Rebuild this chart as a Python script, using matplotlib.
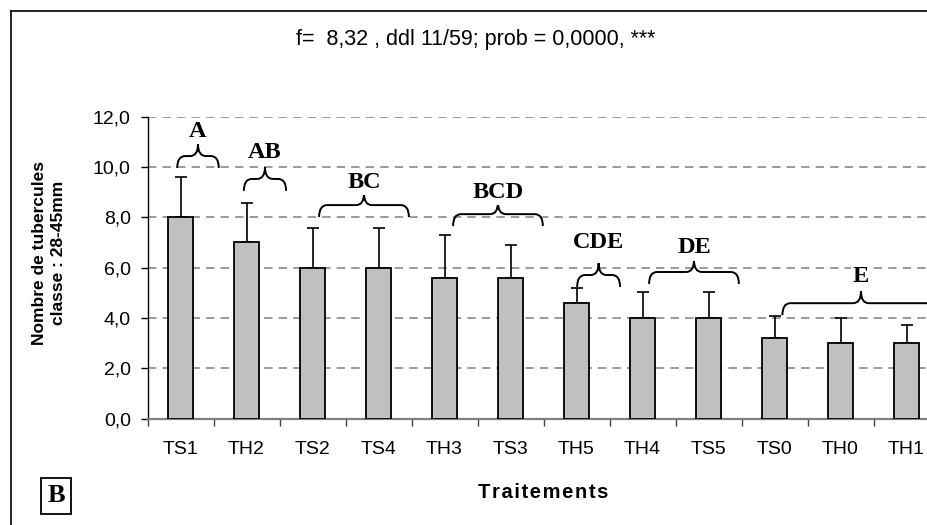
import numpy as np
import matplotlib
matplotlib.use("Agg")
from matplotlib import pyplot as plt
from matplotlib.path import Path
from matplotlib.patches import PathPatch
from matplotlib.lines import Line2D
from matplotlib.ticker import FuncFormatter

treatments = ['TS1', 'TH2', 'TS2', 'TS4', 'TH3', 'TS3', 'TH5', 'TH4', 'TS5', 'TS0', 'TH0', 'TH1']
means = [8.0, 7.0, 6.0, 6.0, 5.6, 5.6, 4.6, 4.0, 4.0, 3.2, 3.0, 3.0]
errors = [1.6, 1.56, 1.56, 1.56, 1.7, 1.3, 0.57, 1.02, 1.02, 0.86, 0.98, 0.73]

# Newman-Keuls groups: letters, brace span (category units) and base height
groups = ['A', 'AB', 'BC', 'BCD', 'CDE', 'DE', 'E']
brace_from = [-0.05, 0.96, 2.10, 4.13, 6.01, 7.10, 9.12]
brace_to = [0.58, 1.60, 3.46, 5.49, 6.66, 8.46, 11.5]
brace_base = [9.96, 9.05, 8.01, 7.65, 5.23, 5.35, 4.11]
letter_y = [11.42, 10.56, 9.40, 9.00, 6.98, 6.78, 5.66]

title = 'f=  8,32 , ddl 11/59; prob = 0,0000, ***'

W, H = 927, 525
x_left, cat_px = 147.5, 66.0   # axis origin and category width in pixels


def brace(ax, x0, x1, y, h=0.95, r=0.12):
    xm = (x0 + x1) / 2
    hm = y + h / 2
    verts = [(x0, y), (x0, hm), (x0 + r, hm),
             (xm - r, hm), (xm, hm), (xm, y + h),
             (xm, hm), (xm + r, hm),
             (x1 - r, hm), (x1, hm), (x1, y)]
    codes = [Path.MOVETO, Path.CURVE3, Path.CURVE3,
             Path.LINETO, Path.CURVE3, Path.CURVE3,
             Path.CURVE3, Path.CURVE3,
             Path.LINETO, Path.CURVE3, Path.CURVE3]
    ax.add_patch(PathPatch(Path(verts, codes), fill=False, edgecolor='black',
                           linewidth=1.4, zorder=4))


fig = plt.figure(figsize=(W / 100, H / 100), dpi=100)
fig.patch.set_facecolor('white')

# the original picture is cut on the right: the axes stops at the picture edge
ax = fig.add_axes([x_left / W, 1 - 418.5 / H, (W - x_left) / W, 301.8 / H])
x = np.arange(len(treatments))
ax.bar(x, means, width=0.39, color='#c0c0c0', edgecolor='black', linewidth=1.3,
       zorder=3)
ax.errorbar(x, means, yerr=[np.zeros(len(means)), errors], fmt='none',
            ecolor='black', elinewidth=1.2, capsize=4, capthick=1.2, zorder=2)

ax.set_xlim(-0.5, -0.5 + (W - x_left) / cat_px)
ax.set_ylim(0, 12)
ax.set_yticks(np.arange(0, 13, 2))
ax.yaxis.set_major_formatter(FuncFormatter(lambda v, p: f'{v:.1f}'.replace('.', ',')))
ax.grid(axis='y', color='#7f7f7f', linestyle=(0, (5.5, 4)), linewidth=1.1, zorder=0)
ax.set_axisbelow(True)

for side in ['top', 'right']:
    ax.spines[side].set_visible(False)
ax.spines['left'].set_linewidth(1.0)
ax.spines['bottom'].set_color('#808080')
ax.spines['bottom'].set_linewidth(1.6)

ax.set_xticks(x)
ax.set_xticklabels(treatments, family='Liberation Sans', fontsize=14)
ax.set_xticks(np.arange(-0.5, 11, 1), minor=True)
ax.tick_params(axis='x', which='major', length=0, pad=16)
ax.tick_params(axis='x', which='minor', length=5, color='#404040', width=1.0)
ax.tick_params(axis='y', length=5, width=1.0, pad=7, labelsize=14)
for t in ax.get_yticklabels():
    t.set_family('Liberation Sans')

for g, a, b, base, ly in zip(groups, brace_from, brace_to, brace_base, letter_y):
    brace(ax, a, b, base)
    ax.text((a + b) / 2, ly, g, family='Liberation Serif', fontweight='bold',
            fontsize=17.5, ha='center', va='center', zorder=5,
            bbox=dict(facecolor='white', edgecolor='none', pad=1.5))

fig.text(476 / W, 1 - 40 / H, title, family='Liberation Sans', fontsize=15.5,
         ha='center', va='center')
fig.text(49 / W, 1 - 253 / H, 'Nombre de tubercules\nclasse : 28-45mm',
         family='Liberation Sans', fontweight='bold', fontsize=12.5, rotation=90,
         ha='center', va='center', multialignment='center', linespacing=1.35)
fig.text(543 / W, 1 - 492 / H, '\u200a'.join('Traitements'),
         family=['Liberation Sans', 'DejaVu Sans'], fontweight='bold',
         fontsize=14.5, ha='center', va='center')
fig.text(56 / W, 1 - 496 / H, 'B', family='Liberation Serif', fontweight='bold',
         fontsize=19, ha='center', va='center',
         bbox=dict(boxstyle='square,pad=0.25', facecolor='white',
                   edgecolor='black', linewidth=1.3))

# outer frame: only left and top edges are inside the picture
fx, fy = 11 / W, 1 - 11 / H
fig.add_artist(Line2D([fx, fx], [0, fy], transform=fig.transFigure,
                      color='black', linewidth=1.2))
fig.add_artist(Line2D([fx, 1], [fy, fy], transform=fig.transFigure,
                      color='black', linewidth=1.2))

fig.savefig('out.png', dpi=100)
